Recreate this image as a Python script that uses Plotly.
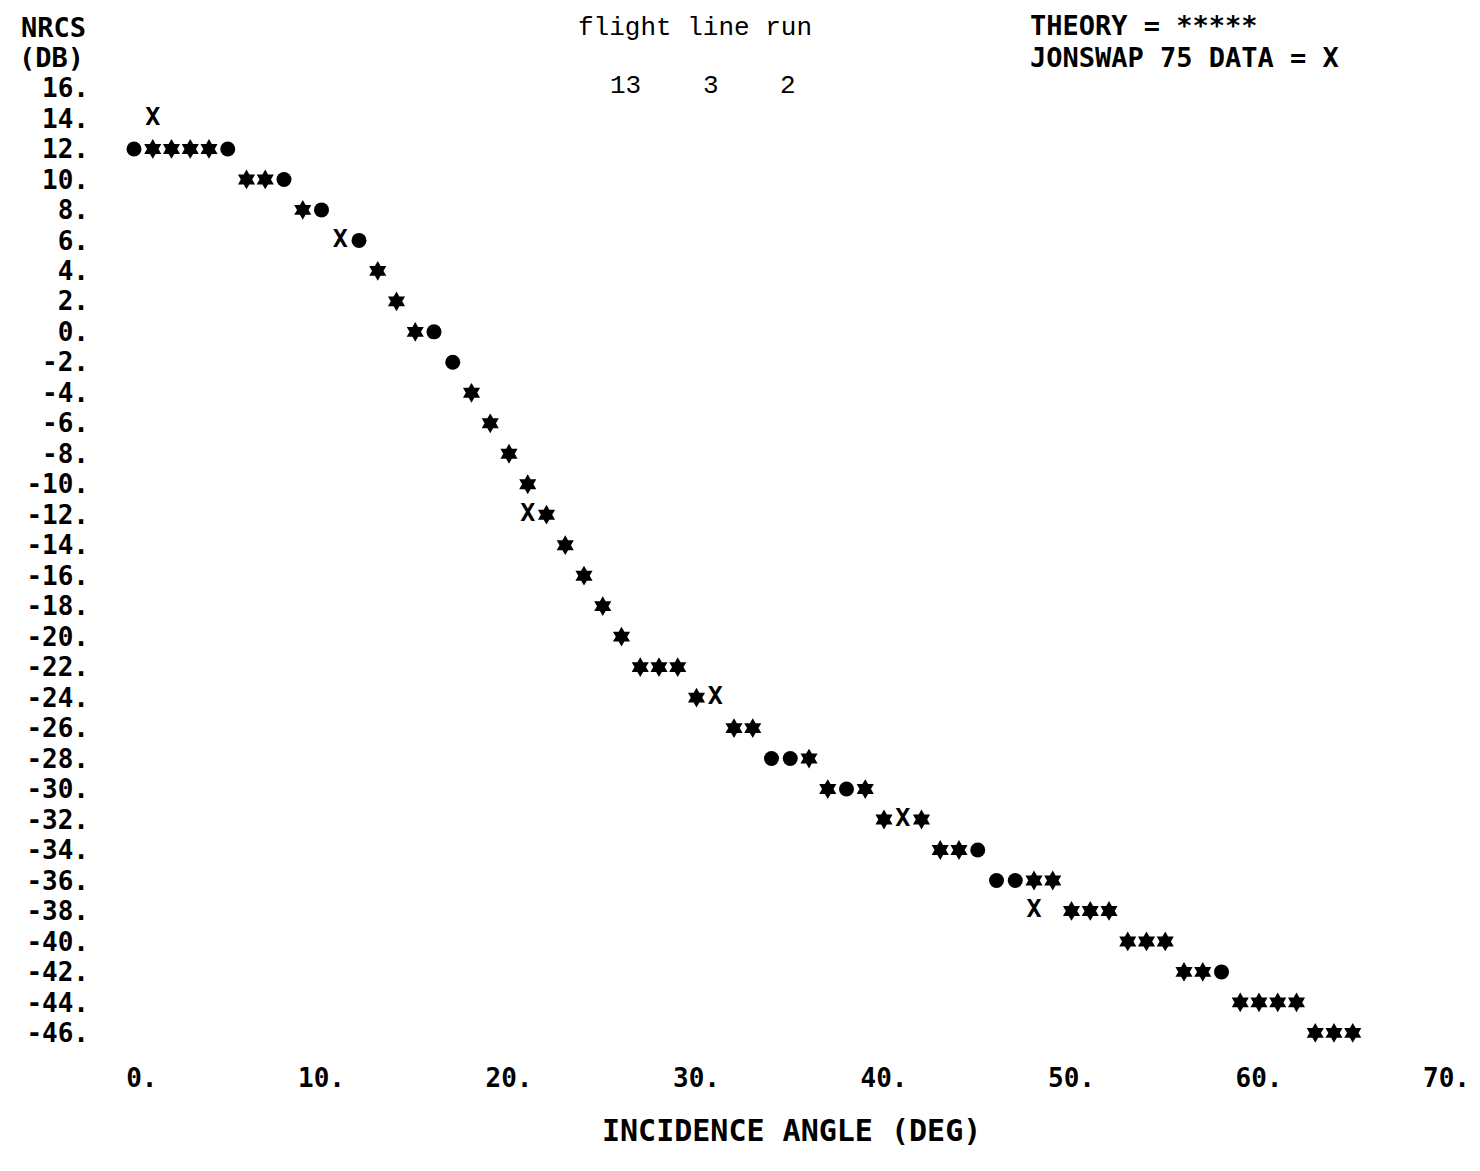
import plotly.graph_objects as go

# ---- data ----
theory_angle = [1, 2, 3, 4, 6, 7, 9, 13, 14, 15, 18, 19, 20, 21, 22, 23, 24, 25, 26,
                27, 28, 29, 30, 32, 33, 36, 37, 39, 40, 42, 43, 44, 48, 49,
                50, 51, 52, 53, 54, 55, 56, 57, 59, 60, 61, 62, 63, 64, 65]
theory_db = [12, 12, 12, 12, 10, 10, 8, 4, 2, 0, -4, -6, -8, -10, -12, -14, -16, -18, -20,
             -22, -22, -22, -24, -26, -26, -28, -30, -30, -32, -32, -34, -34, -36, -36,
             -38, -38, -38, -40, -40, -40, -42, -42, -44, -44, -44, -44, -46, -46, -46]

data_angle = [1, 11, 21, 31, 41, 48]
data_db = [14, 6, -12, -24, -32, -38]

overlap_angle = [0, 5, 8, 10, 12, 16, 17, 34, 35, 38, 45, 46, 47, 58]
overlap_db = [12, 12, 10, 8, 6, 0, -2, -28, -28, -30, -34, -36, -36, -42]

y_tick_vals = [16, 14, 12, 10, 8, 6, 4, 2, 0, -2, -4, -6, -8, -10, -12, -14, -16, -18,
               -20, -22, -24, -26, -28, -30, -32, -34, -36, -38, -40, -42, -44, -46]
y_tick_text = [f"{v}." for v in y_tick_vals]
x_tick_vals = [0, 10, 20, 30, 40, 50, 60, 70]
x_tick_text = ["\u00a00." if v == 0 else f"{v}." for v in x_tick_vals]

flight_labels = ["13", "3", "2"]

# ---- layout geometry ----
W, H = 1480, 1171
L, R, T, B = 90, 10, 70, 111
PW, PH = W - L - R, H - T - B
PX_PER_DEG = 18.75
X0_PX = 134
x_range = [(L - X0_PX) / PX_PER_DEG, (W - R - X0_PX) / PX_PER_DEG]
PX_PER_DB = 15.24
Y16_PX = 88
y_range = [16 - (H - B - Y16_PX) / PX_PER_DB, 16 + (Y16_PX - T) / PX_PER_DB]


def px(xp):
    return (xp - L) / PW


def py(yp):
    return (H - B - yp) / PH


MONO = "DejaVu Sans Mono"
TYPE = "Liberation Mono"

fig = go.Figure()
fig.add_trace(go.Scatter(
    x=theory_angle, y=theory_db, mode="markers", name="THEORY",
    marker=dict(symbol="hexagram", size=15, color="black",
                line=dict(color="black", width=0)),
    hoverinfo="x+y"))
fig.add_trace(go.Scatter(
    x=overlap_angle, y=overlap_db, mode="markers", name="THEORY + DATA",
    marker=dict(symbol="circle", size=15, color="black"),
    hoverinfo="x+y"))
fig.add_trace(go.Scatter(
    x=data_angle, y=data_db, mode="text", name="JONSWAP 75 DATA",
    text=["X"] * len(data_angle), textposition="middle center",
    textfont=dict(family=MONO, size=25, color="black", weight="bold"),
    hoverinfo="x+y"))

ann = []


def add(text, x, y, xanchor="left", family=MONO, size=27, bold=True):
    ann.append(dict(text=text, x=px(x), y=py(y), xref="paper", yref="paper",
                    xanchor=xanchor, yanchor="middle", showarrow=False,
                    font=dict(family=family, size=size, color="black",
                              weight="bold" if bold else "normal")))


add("NRCS", 88, 27, xanchor="right")
add("(DB)", 86, 57, xanchor="right")
add("flight line run", 695, 28, xanchor="center", family=TYPE, size=26, bold=False)
for lab, xc in zip(flight_labels, [625, 711, 788]):
    add(lab, xc, 86, xanchor="center", family=TYPE, size=26, bold=False)
add("THEORY = *****", 1028, 26, size=27)
add("JONSWAP 75 DATA = X", 1028, 57, size=27)
add("INCIDENCE ANGLE (DEG)", 791, 1130, xanchor="center", size=30)

fig.update_layout(
    width=W, height=H,
    margin=dict(l=L, r=R, t=T, b=B, pad=0),
    paper_bgcolor="white", plot_bgcolor="white",
    showlegend=False,
    annotations=ann,
    xaxis=dict(range=x_range, tickvals=x_tick_vals, ticktext=x_tick_text,
               showgrid=False, zeroline=False, showline=False, ticks="",
               tickfont=dict(family=MONO, size=26, color="black", weight="bold"),
               ticklabelstandoff=0),
    yaxis=dict(range=y_range, tickvals=y_tick_vals, ticktext=y_tick_text,
               showgrid=False, zeroline=False, showline=False, ticks="",
               tickfont=dict(family=MONO, size=26, color="black", weight="bold")),
)

fig.write_html("out.html")
